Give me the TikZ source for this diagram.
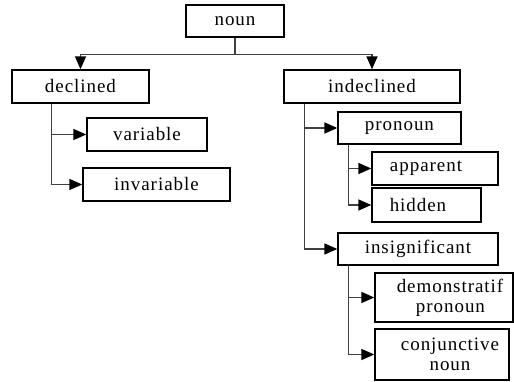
\documentclass[tikz,border=0pt]{standalone}
\usepackage{fontspec}
\setmainfont[LetterSpace=5]{Liberation Serif}
\usetikzlibrary{arrows.meta}
\tikzset{
  box/.style={draw=black, line width=1.4pt, fill=white, inner sep=0pt,
              font=\fontsize{19}{20}\selectfont, align=center},
  link/.style={draw=black!75, line width=1.6pt},
  arr/.style={link, -{Triangle[length=13pt,width=11pt,color=black]}},
}
\begin{document}
\begin{tikzpicture}[x=1pt,y=-1pt]
\useasboundingbox (0,0) rectangle (514,382);
\fill[white] (0,0) rectangle (514,382);

% boxes
\node[box, minimum width=98pt,  minimum height=32pt] (noun)   at (235,21)    {noun};
\node[box, minimum width=137pt, minimum height=33pt] (decl)   at (80.5,86.5) {declined};
\node[box, minimum width=176pt, minimum height=33pt] (indecl) at (372,86.5)  {indeclined};
\node[box, minimum width=120pt, minimum height=33pt] (var)    at (147,134.5) {variable};
\node[box, minimum width=147pt, minimum height=33pt] (invar)  at (156.5,184.5) {invariable};
\node[box, minimum width=123pt, minimum height=32pt] (pron)   at (399.5,128) {pronoun};
\node[box, minimum width=126pt, minimum height=33pt] (appar)  at (435,168.5) {\hspace*{-18pt}apparent};
\node[box, minimum width=109pt, minimum height=34pt] (hidden) at (426.5,205) {\hspace*{-17pt}hidden};
\node[box, minimum width=138pt, minimum height=49pt] (demo)   at (444,297.5) {\hspace*{12pt}demonstratif\\\hspace*{13pt}pronoun};
\node[box, minimum width=160pt, minimum height=32pt] (insig)  at (418,249)   {insignificant};
\node[box, minimum width=134pt, minimum height=51pt] (conj)   at (442,354.5) {\hspace*{16pt}conjunctive\\\hspace*{16pt}noun};

% trunk origins below the parent boxes
\coordinate (dtrunk) at ([xshift=40pt]decl.south west);
\coordinate (itrunk) at ([xshift=21pt]indecl.south west);
\coordinate (ptrunk) at ([xshift=11pt]pron.south west);
\coordinate (strunk) at ([xshift=11pt]insig.south west);

% connectors
\draw[arr] (noun.south) -- ++(0,17) -| (decl.north);
\draw[arr] (noun.south) -- ++(0,17) -| (indecl.north);
\draw[arr] (dtrunk) |- (var.west);
\draw[arr] (dtrunk) |- (invar.west);
\draw[arr] (itrunk) |- (pron.west);
\draw[arr] (itrunk) |- (insig.west);
\draw[arr] (ptrunk) |- (appar.west);
\draw[arr] (ptrunk) |- (hidden.west);
\draw[arr] (strunk) |- (demo.west);
\draw[arr] (strunk) |- (conj.west);
\end{tikzpicture}
\end{document}
